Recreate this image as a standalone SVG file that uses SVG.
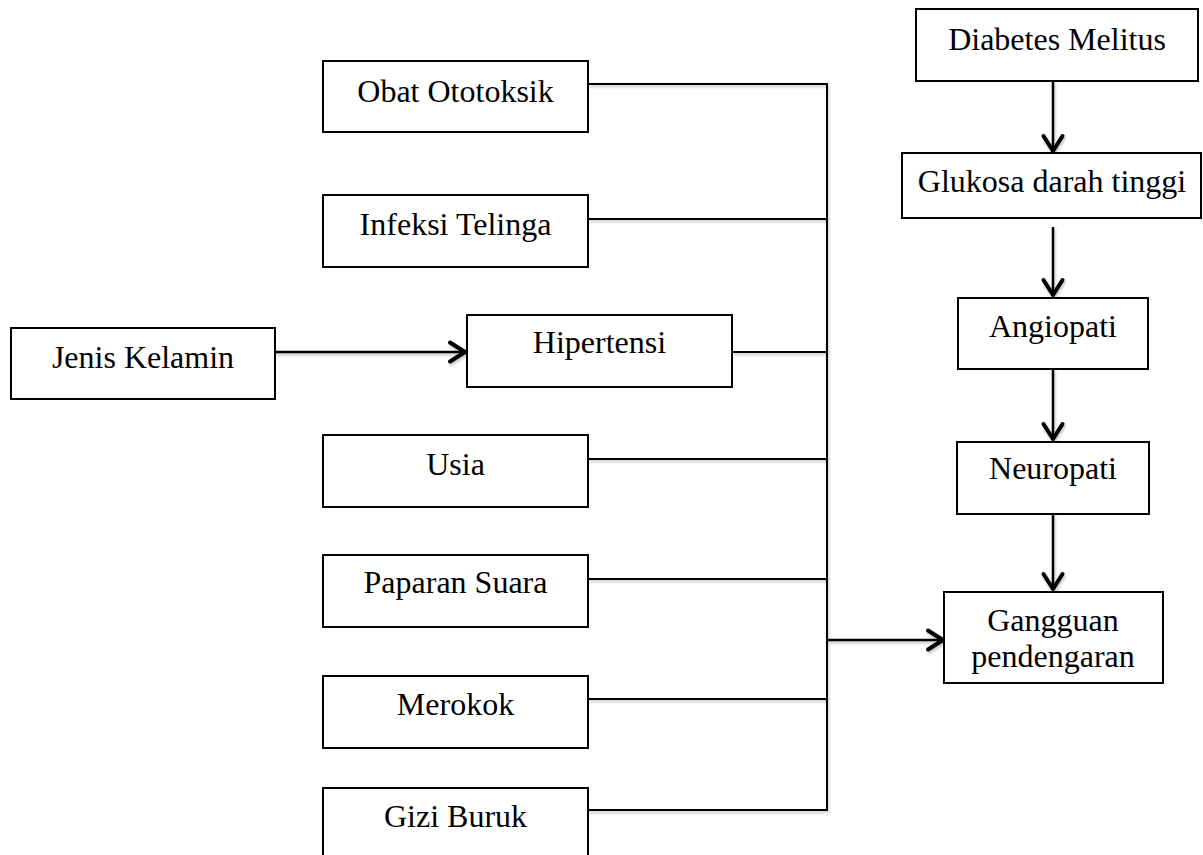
<svg xmlns="http://www.w3.org/2000/svg" width="1203" height="855" viewBox="0 0 1203 855">
  <style>
    .box { fill: #ffffff; stroke: #000000; stroke-width: 2; }
    .lbl { font-family: "Liberation Serif", "Times New Roman", serif; font-size: 32px; fill: #000000; text-anchor: middle; }
    .ln { fill: none; stroke: #000000; stroke-width: 2; }
    .arr { fill: none; stroke: #000000; stroke-width: 2.5; marker-end: url(#chev); }
  </style>
  <defs>
    <marker id="chev" viewBox="0 0 26 26" refX="21" refY="13" markerWidth="26" markerHeight="26" markerUnits="userSpaceOnUse" orient="auto">
      <path d="M5,3.5 L20,13 L5,22.5" fill="none" stroke="#000000" stroke-width="4" stroke-linecap="round" stroke-linejoin="round"/>
    </marker>
    <filter id="sh" x="-10%" y="-10%" width="120%" height="130%">
      <feDropShadow dx="1" dy="2" stdDeviation="1.5" flood-color="#000000" flood-opacity="0.25"/>
    </filter>
  </defs>
  <rect width="1203" height="855" fill="#ffffff"/>

  <g id="connectors" filter="url(#sh)">
    <path class="ln" d="M588,84 H827 V810 H588"/>
    <path class="ln" d="M588,219 H827"/>
    <path class="ln" d="M732,352 H827"/>
    <path class="ln" d="M588,459 H827"/>
    <path class="ln" d="M588,579 H827"/>
    <path class="ln" d="M588,699 H827"/>
    <path class="arr" d="M827,640 H944"/>
    <path class="arr" d="M275,352 H466"/>
    <path class="arr" d="M1053,81 V152"/>
    <path class="arr" d="M1053,227 V296"/>
    <path class="arr" d="M1053,369 V440"/>
    <path class="arr" d="M1053,514 V590"/>
  </g>

  <g id="obat">
    <rect class="box" x="323" y="61" width="265" height="71"/>
    <text class="lbl" x="455.5" y="102">Obat Ototoksik</text>
  </g>
  <g id="infeksi">
    <rect class="box" x="323" y="195" width="265" height="72"/>
    <text class="lbl" x="455.5" y="235">Infeksi Telinga</text>
  </g>
  <g id="jenis">
    <rect class="box" x="11" y="328" width="264" height="71"/>
    <text class="lbl" x="143" y="368">Jenis Kelamin</text>
  </g>
  <g id="hipertensi">
    <rect class="box" x="467" y="315" width="265" height="72"/>
    <text class="lbl" x="599.5" y="353">Hipertensi</text>
  </g>
  <g id="usia">
    <rect class="box" x="323" y="435" width="265" height="72"/>
    <text class="lbl" x="455.5" y="475">Usia</text>
  </g>
  <g id="paparan">
    <rect class="box" x="323" y="555" width="265" height="72"/>
    <text class="lbl" x="455.5" y="593">Paparan Suara</text>
  </g>
  <g id="merokok">
    <rect class="box" x="323" y="676" width="265" height="72"/>
    <text class="lbl" x="455.5" y="715">Merokok</text>
  </g>
  <g id="gizi">
    <rect class="box" x="323" y="788" width="265" height="80"/>
    <text class="lbl" x="455.5" y="827">Gizi Buruk</text>
  </g>
  <g id="diabetes">
    <rect class="box" x="916" y="9" width="282" height="72"/>
    <text class="lbl" x="1057" y="50">Diabetes Melitus</text>
  </g>
  <g id="glukosa">
    <rect class="box" x="902" y="153" width="299" height="65"/>
    <text class="lbl" x="1052" y="192">Glukosa darah tinggi</text>
  </g>
  <g id="angiopati">
    <rect class="box" x="958" y="298" width="190" height="71"/>
    <text class="lbl" x="1053" y="337">Angiopati</text>
  </g>
  <g id="neuropati">
    <rect class="box" x="957" y="442" width="192" height="72"/>
    <text class="lbl" x="1053" y="479">Neuropati</text>
  </g>
  <g id="gangguan">
    <rect class="box" x="944" y="592" width="219" height="91"/>
    <text class="lbl" x="1053" y="631">Gangguan</text>
    <text class="lbl" x="1053" y="667">pendengaran</text>
  </g>
</svg>
